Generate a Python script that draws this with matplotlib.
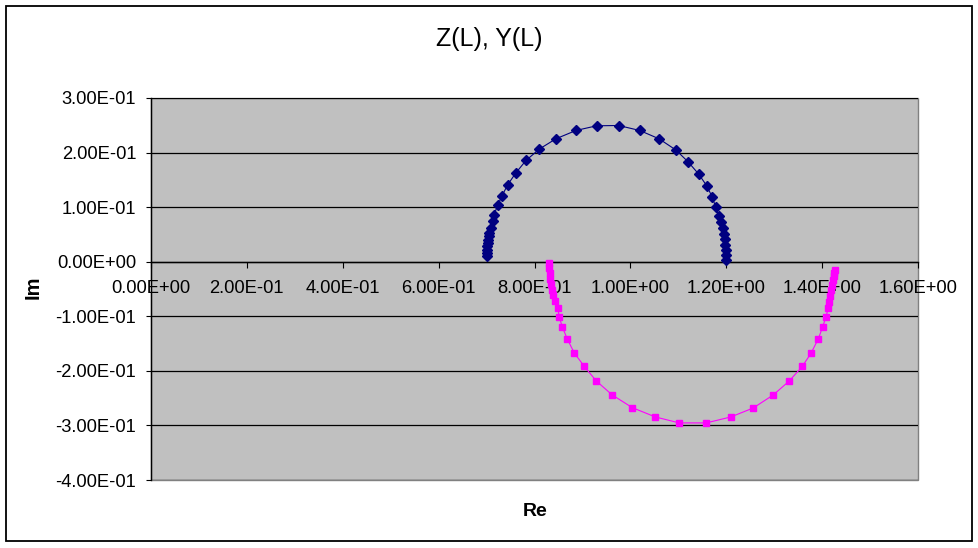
import matplotlib
matplotlib.use("Agg")
import matplotlib.pyplot as plt
from matplotlib.ticker import FixedLocator, FuncFormatter

# Z(L) series (dark blue diamonds)
z_re = [1.2000, 1.1994, 1.1988, 1.1980, 1.1967, 1.1946, 1.1925, 1.1890, 1.1842, 1.1779,
        1.1708, 1.1592, 1.1425, 1.1202, 1.0951, 1.0597, 1.0194, 0.9756, 0.9297, 0.8865,
        0.8448, 0.8100, 0.7822, 0.7608, 0.7441, 0.7315, 0.7232, 0.7155, 0.7128, 0.7092,
        0.7057, 0.7044, 0.7036, 0.7023, 0.7015, 0.7009, 0.7003, 0.7003]
z_im = [0.0037, 0.0128, 0.0220, 0.0311, 0.0416, 0.0513, 0.0617, 0.0720, 0.0842, 0.1002,
        0.1185, 0.1392, 0.1606, 0.1832, 0.2046, 0.2253, 0.2405, 0.2496, 0.2491, 0.2405,
        0.2253, 0.2064, 0.1855, 0.1624, 0.1410, 0.1196, 0.1031, 0.0861, 0.0738, 0.0617,
        0.0526, 0.0463, 0.0403, 0.0342, 0.0280, 0.0220, 0.0159, 0.0097]

# Y(L) series (magenta squares)
y_re = [0.8302, 0.8308, 0.8319, 0.8333, 0.8350, 0.8371, 0.8396, 0.8427, 0.8484, 0.8517,
        0.8580, 0.8684, 0.8830, 0.9038, 0.9289, 0.9622, 1.0040, 1.0519, 1.1020, 1.1583,
        1.2098, 1.2564, 1.2981, 1.3315, 1.3586, 1.3767, 1.3919, 1.4011, 1.4080, 1.4128,
        1.4153, 1.4174, 1.4195, 1.4212, 1.4226, 1.4241, 1.4253, 1.4268]
y_im = [-0.0027, -0.0119, -0.0211, -0.0311, -0.0412, -0.0513, -0.0614, -0.0723, -0.0848, -0.1013,
        -0.1196, -0.1416, -0.1672, -0.1918, -0.2185, -0.2442, -0.2674, -0.2844, -0.2954, -0.2954,
        -0.2844, -0.2680, -0.2441, -0.2185, -0.1918, -0.1679, -0.1416, -0.1196, -0.1013, -0.0848,
        -0.0733, -0.0623, -0.0513, -0.0421, -0.0339, -0.0266, -0.0201, -0.0156]

x_ticks = [0.0, 0.2, 0.4, 0.6, 0.8, 1.0, 1.2, 1.4, 1.6]
y_ticks = [-0.4, -0.3, -0.2, -0.1, 0.0, 0.1, 0.2, 0.3]

title = "Z(L), Y(L)"
x_label = "Re"
y_label = "Im"

plt.rcParams['font.family'] = ['Liberation Sans', 'DejaVu Sans']

W, H = 979, 548
fig = plt.figure(figsize=(W / 100, H / 100), dpi=100)
fig.patch.set_facecolor('white')

# outer chart border
fig.add_artist(plt.Rectangle((6 / W, 1 - 541 / H), (972 - 6) / W, (541 - 6) / H,
                             transform=fig.transFigure, fill=False,
                             edgecolor='black', linewidth=1.3))

L, R, T, B = 151, 918, 98, 480
ax = fig.add_axes([L / W, 1 - B / H, (R - L) / W, (B - T) / H])
ax.set_facecolor('#C0C0C0')
ax.patch.set_edgecolor('#808080')
ax.patch.set_linewidth(1.0)

ax.set_xlim(0, 1.6)
ax.set_ylim(-0.4, 0.3)

fmt = FuncFormatter(lambda v, p: f"{v:.2E}")
ax.xaxis.set_major_locator(FixedLocator(x_ticks))
ax.yaxis.set_major_locator(FixedLocator(y_ticks))
ax.xaxis.set_major_formatter(fmt)
ax.yaxis.set_major_formatter(fmt)

for s in ['top', 'right']:
    ax.spines[s].set_visible(False)
ax.spines['bottom'].set_position(('data', 0))
ax.spines['bottom'].set_color('black')
ax.spines['left'].set_color('black')
ax.spines['bottom'].set_linewidth(1.0)
ax.spines['left'].set_linewidth(1.0)

ax.tick_params(axis='x', direction='out', length=4.3, width=0.8, pad=9,
               labelsize=13.2, colors='black')
ax.tick_params(axis='y', direction='out', length=3.6, width=0.8, pad=7,
               labelsize=13.2, colors='black')

ax.yaxis.grid(True, color='black', linewidth=0.9)
ax.xaxis.grid(False)
ax.set_axisbelow('line')

ax.plot(z_re, z_im, color='#000080', linewidth=0.8, marker='D', markersize=5.2,
        markerfacecolor='#000080', markeredgecolor='#000080', zorder=3, clip_on=False)
ax.plot(y_re, y_im, color='#FF00FF', linewidth=0.8, marker='s', markersize=4.8,
        markerfacecolor='#FF00FF', markeredgecolor='#FF00FF', zorder=3, clip_on=False)

fig.text(489 / W, 1 - 39 / H, title, ha='center', va='center', fontsize=18)
fig.text(535 / W, 1 - 512 / H, x_label, ha='center', va='center', fontsize=14,
         fontweight='bold')
fig.text(33 / W, 1 - 287 / H, y_label, ha='center', va='center', fontsize=14.5,
         fontweight='bold', rotation=90)

fig.savefig("out.png", dpi=100, facecolor='white')
